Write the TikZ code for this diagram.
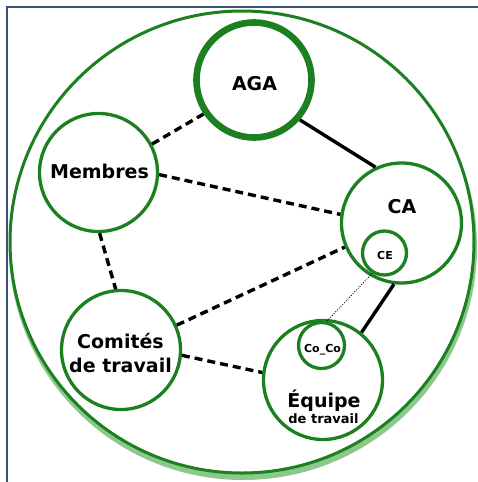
\documentclass[tikz,border=0pt]{standalone}
\usepackage{fontspec}
\setmainfont{DejaVu Sans}
\definecolor{vert}{RGB}{28,128,32}
\definecolor{vertclair}{RGB}{140,200,140}
\definecolor{cadre}{RGB}{60,82,115}
\begin{document}
\begin{tikzpicture}[x=1pt,y=-1pt,
  rond/.style={circle,draw=vert,line width=3.3pt,inner sep=0pt},
  lien/.style={line width=3.4pt,black},
  tirets/.style={lien,dash pattern=on 8pt off 5pt},
  points/.style={line width=0.8pt,dash pattern=on 1pt off 1.5pt},
  grand/.style={font=\fontsize{19}{23}\selectfont\bfseries,anchor=base},
  petit/.style={font=\fontsize{11}{13}\selectfont\bfseries,anchor=base},
  moyen/.style={font=\fontsize{13}{15}\selectfont\bfseries,anchor=base}]
\useasboundingbox(0,0)rectangle(478,482);
\draw[cadre,line width=2pt](7,482)--(7,7)--(478,7);
% grand cercle avec ombre
\fill[vertclair](243,247)ellipse(234 and 233);
\draw[vert,line width=3pt,fill=white](242,242)ellipse(232 and 231);
% cercles
\node[rond,line width=6.6pt,minimum size=115pt](aga)at(254,80){};
\node[rond,minimum size=118pt](membres)at(98.5,172.5){};
\node[rond,minimum size=120pt](ca)at(401.5,223){};
\node[rond,minimum size=44pt](ce)at(384.5,253){};
\node[rond,minimum size=119pt](comites)at(121,350){};
\node[rond,minimum size=119pt](equipe)at(323,380){};
\node[rond,minimum size=46pt](coco)at(321.5,345.5){};
% textes
\node[grand](taga)at(254.5,90){AGA};
\node[grand](tmembres)at(99.5,178){Membres};
\node[grand](tca)at(402,213){CA};
\node[petit](tce)at(385,259){CE};
\node[grand](tcomites)at(120.5,348){Comités};
\node[grand](tcomites2)at(120.5,372){de travail};
\node[petit](tcoco)at(322.5,352){Co\_Co};
\node[grand](tequipe)at(324,407){Équipe};
\node[moyen](tequipe2)at(323.5,423){de travail};
% liens
\draw[tirets](membres.28)--(aga.214);
\draw[lien](aga.-41)--(ca.115);
\draw[tirets](membres.-2)--(ca.172);
\draw[tirets](membres.-89)--(comites.95);
\draw[tirets](comites.24)--(ca.203);
\draw[tirets](comites.-5)--(equipe.173);
\draw[lien](ca.263)--(equipe.51);
\draw[points](ce.239)--(coco.78);
\end{tikzpicture}
\end{document}
